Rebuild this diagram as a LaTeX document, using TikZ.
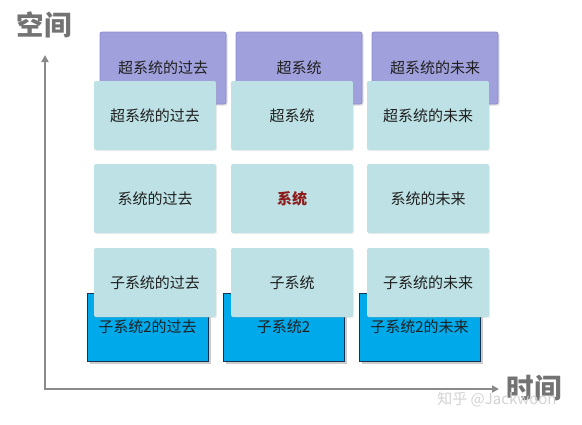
\documentclass[tikz,border=0pt]{standalone}
\usepackage{fontspec}
\newfontfamily\cjk{Noto Sans CJK SC}
\usetikzlibrary{shadows,arrows.meta}
\definecolor{purp}{HTML}{A0A0DC}
\definecolor{purpb}{HTML}{8C8CD2}
\definecolor{cyanbox}{HTML}{BDE1E4}
\definecolor{bluebox}{HTML}{00AAEA}
\definecolor{navy}{HTML}{1B3350}
\definecolor{axisgray}{HTML}{8A8A8A}
\definecolor{sysred}{HTML}{8E1B1B}
\tikzset{
  boxfont/.style={font=\cjk\fontsize{15}{17}\selectfont, text=black!88},
  purpbox/.style={rectangle, rounded corners=2pt, fill=purp, draw=purpb, line width=0.8pt,
    minimum width=126pt, minimum height=72pt, inner sep=0pt, boxfont,
    drop shadow={shadow xshift=1.5pt, shadow yshift=-1.5pt, opacity=0.25}},
  cyanb/.style={rectangle, rounded corners=2pt, fill=cyanbox, draw=none,
    minimum width=122pt, minimum height=69pt, inner sep=0pt, boxfont,
    drop shadow={shadow xshift=1pt, shadow yshift=-1pt, opacity=0.15}},
  blueb/.style={rectangle, fill=bluebox, draw=navy, line width=1pt,
    minimum width=121pt, minimum height=68pt, inner sep=0pt, boxfont,
    drop shadow={shadow xshift=2.5pt, shadow yshift=-2.5pt, opacity=0.4}},
  axislabel/.style={font=\cjk\bfseries\fontsize{27.5}{30}\selectfont, text=gray!90!black, inner sep=0pt},
  axisline/.style={draw=axisgray, line width=2.2pt, -{Triangle[length=7pt,width=7pt]}},
}
\begin{document}
\begin{tikzpicture}[x=1pt,y=-1pt]
\useasboundingbox (0,0) rectangle (582,424);
% back purple row
\node[purpbox] (p1) at (163,68) {超系统的过去};
\node[purpbox] (p2) at (299,68) {超系统};
\node[purpbox] (p3) at (435,68) {超系统的未来};
% back blue row
\node[blueb] (b1) at (147.5,327) {子系统2的过去};
\node[blueb] (b2) at (283.5,327) {子系统2};
\node[blueb] (b3) at (419.5,327) {子系统2的未来};
% cyan grid
\node[cyanb] (c11) at (155,115.5) {超系统的过去};
\node[cyanb] (c12) at (292,115.5) {超系统};
\node[cyanb] (c13) at (428,115.5) {超系统的未来};
\node[cyanb] (c21) at (155,198.5) {系统的过去};
\node[cyanb, font=\cjk\bfseries\fontsize{15}{17}\selectfont, text=sysred] (c22) at (292,198.5) {系统};
\node[cyanb] (c23) at (428,198.5) {系统的未来};
\node[cyanb] (c31) at (155,282.5) {子系统的过去};
\node[cyanb] (c32) at (292,282.5) {子系统};
\node[cyanb] (c33) at (428,282.5) {子系统的未来};
% axes
\coordinate (o) at (45,389);
\coordinate (ytip) at (45,55);
\coordinate (xtip) at (499,389);
\draw[axisline] (o) -- (ytip);
\draw[axisline] (o) -- (xtip);
\draw[axisgray, line width=2.2pt] ([xshift=-1.1pt]o) -- ([xshift=1pt]o);
\node[axislabel] (ylab) at (44,25) {空间};
\node[axislabel] (xlab) at (534,388) {时间};
\node[font=\cjk\fontsize{15}{17}\selectfont, text=gray!35, inner sep=0pt] (wm) at (497,399) {知乎 @Jackwoon};
\end{tikzpicture}
\end{document}
